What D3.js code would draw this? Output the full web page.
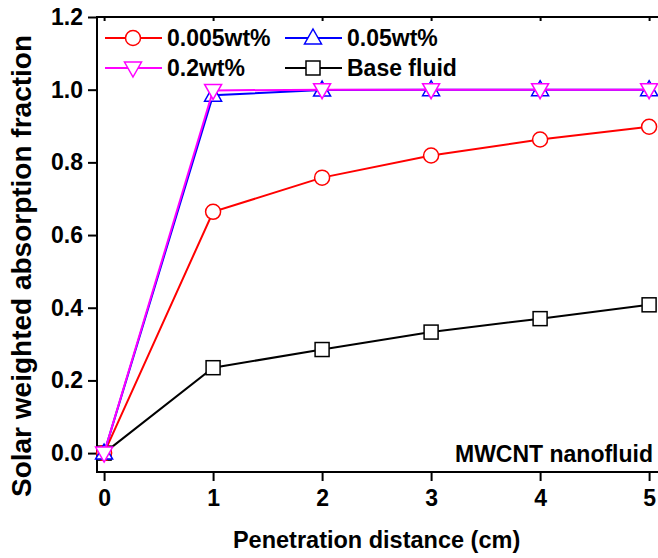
<!DOCTYPE html>
<html>
<head>
<meta charset="utf-8">
<script src="https://cdn.jsdelivr.net/npm/d3@7"></script>
<style>
  body { margin: 0; background: #fff; }
  svg text { font-family: "Liberation Sans", Arial, sans-serif; font-weight: bold; fill: #000; }
</style>
</head>
<body>
<div id="chart"></div>
<script>
// penetration distance (cm)
const distance = [0, 1, 2, 3, 4, 5];
const xTicks = [0, 1, 2, 3, 4, 5];
const yTicks = [0.0, 0.2, 0.4, 0.6, 0.8, 1.0, 1.2];

const seriesNames = ["Base fluid", "0.005wt%", "0.05wt%", "0.2wt%"];
const baseFluid = [0.0, 0.235, 0.285, 0.333, 0.37, 0.408];
const wt0005 = [0.0, 0.664, 0.758, 0.819, 0.863, 0.898];
const wt005 = [0.0, 0.985, 0.999, 1.0, 1.0, 1.0];
const wt02 = [0.0, 0.998, 1.0, 1.0, 1.0, 1.0];

const series = [
    { name: seriesNames[0], values: baseFluid, color: "#000000", marker: "square" },
    { name: seriesNames[1], values: wt0005, color: "#ff0000", marker: "circle" },
    { name: seriesNames[2], values: wt005, color: "#0000ff", marker: "triUp" },
    { name: seriesNames[3], values: wt02, color: "#ff00ff", marker: "triDown" }
];

const W = 658, H = 558;
const margin = { left: 97, top: 17, right: -2, bottom: 86 };
const innerW = W - margin.left - margin.right;
const innerH = H - margin.top - margin.bottom;

const svg = d3.select("#chart").append("svg")
    .attr("width", W)
    .attr("height", H);

const g = svg.append("g")
    .attr("transform", `translate(${margin.left},${margin.top})`);

const x = d3.scaleLinear().domain([-0.065, 5.1]).range([0, innerW]);
const y = d3.scaleLinear().domain([-0.052, 1.2]).range([innerH, 0]);

// frame
g.append("rect")
    .attr("width", innerW).attr("height", innerH)
    .attr("fill", "none").attr("stroke", "#000").attr("stroke-width", 2);

// axes
const xAxis = g.append("g")
    .attr("transform", `translate(0,${innerH})`)
    .call(d3.axisBottom(x).tickValues(xTicks).tickFormat(d3.format("d")).tickSize(9).tickPadding(9));
const yAxis = g.append("g")
    .call(d3.axisLeft(y).tickValues(yTicks).tickFormat(d3.format(".1f")).tickSize(9).tickPadding(5));
const xTop = g.append("g")
    .call(d3.axisTop(x).tickValues(xTicks).tickSize(-4).tickFormat(""));

[xAxis, yAxis, xTop].forEach(a => {
    a.select(".domain").remove();
    a.selectAll("line").attr("stroke", "#000").attr("stroke-width", 2);
    a.selectAll("text").style("font-size", "23px").style("font-family", "Liberation Sans, Arial, sans-serif").style("font-weight", "bold");
});

// marker drawing
function drawMarker(sel, type, color) {
    if (type === "circle") {
        sel.append("circle").attr("r", 7.5);
    } else if (type === "square") {
        sel.append("rect").attr("x", -7).attr("y", -7).attr("width", 14).attr("height", 14);
    } else if (type === "triUp") {
        sel.append("path").attr("d", "M0,-9 L8.5,6 L-8.5,6 Z");
    } else {
        sel.append("path").attr("d", "M0,9 L8.5,-6 L-8.5,-6 Z");
    }
    sel.selectAll("*").attr("fill", "#fff").attr("stroke", color).attr("stroke-width", 1.5);
}

const line = d3.line().x((d, i) => x(distance[i])).y(d => y(d));

series.forEach(s => {
    g.append("path")
        .datum(s.values)
        .attr("d", line)
        .attr("fill", "none")
        .attr("stroke", s.color)
        .attr("stroke-width", 2);
    g.selectAll(null)
        .data(s.values)
        .enter().append("g")
        .attr("transform", (d, i) => `translate(${x(distance[i])},${y(d)})`)
        .each(function () { drawMarker(d3.select(this), s.marker, s.color); });
});

// legend
const legendItems = [
    { s: series[1], col: 0, row: 0 },
    { s: series[2], col: 1, row: 0 },
    { s: series[3], col: 0, row: 1 },
    { s: series[0], col: 1, row: 1 }
];
const legend = svg.append("g");
legendItems.forEach(it => {
    const lx = it.col === 0 ? 105 : 285;
    const ly = it.row === 0 ? 38 : 68;
    const item = legend.append("g");
    item.append("line")
        .attr("x1", lx).attr("x2", lx + 57).attr("y1", ly).attr("y2", ly)
        .attr("stroke", it.s.color).attr("stroke-width", 2);
    const m = item.append("g").attr("transform", `translate(${lx + 28},${ly})`);
    drawMarker(m, it.s.marker, it.s.color);
    item.append("text")
        .attr("x", lx + 62).attr("y", ly + 8)
        .style("font-size", "23px")
        .text(it.s.name);
});

// annotation
svg.append("text")
    .attr("x", 653).attr("y", 462)
    .attr("text-anchor", "end")
    .style("font-size", "23px")
    .text("MWCNT nanofluid");

// axis titles
svg.append("text")
    .attr("x", margin.left + x(2.5)).attr("y", 548)
    .attr("text-anchor", "middle")
    .style("font-size", "23.5px")
    .text("Penetration distance (cm)");

svg.append("text")
    .attr("transform", `translate(31,266) rotate(-90)`)
    .attr("text-anchor", "middle")
    .style("font-size", "28px")
    .text("Solar weighted absorption fraction");
</script>
</body>
</html>
